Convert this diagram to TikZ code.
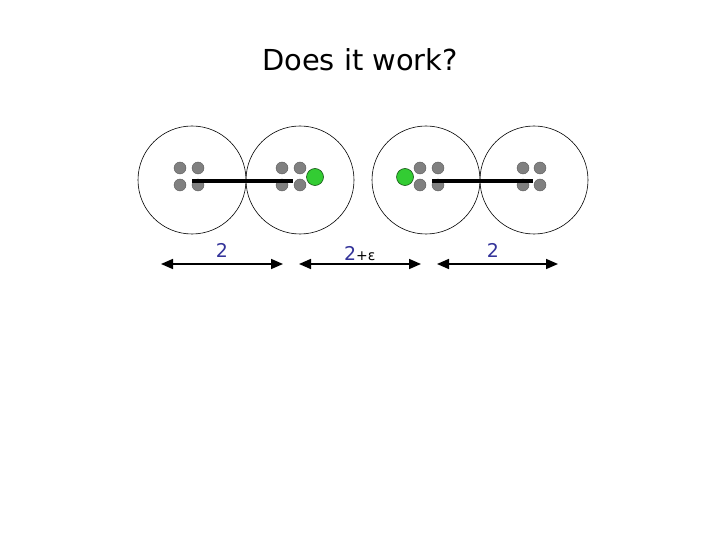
\documentclass[tikz,border=0pt]{standalone}
\usepackage{fontspec}
\setmainfont{DejaVu Sans}
\usetikzlibrary{arrows.meta}
\definecolor{lblue}{HTML}{333399}
\definecolor{dotgray}{HTML}{808080}
\definecolor{dotgreen}{HTML}{33CC33}
\begin{document}
\begin{tikzpicture}[x=1bp,y=-1bp,
  bigc/.style={circle,draw=black,line width=0.6bp,minimum size=108bp,inner sep=0},
  gdot/.style={circle,fill=dotgray,draw=dotgray!70!black,line width=0.4bp,minimum size=12bp,inner sep=0},
  grn/.style={circle,fill=dotgreen,draw=dotgreen!40!black,line width=0.6bp,minimum size=17bp,inner sep=0},
  bar/.style={line width=4.5bp,black},
  dim/.style={line width=1.6bp,{Triangle[length=12bp,width=10bp]}-{Triangle[length=12bp,width=10bp]}},
  lbl/.style={text=lblue,font=\fontsize{19}{21}\selectfont}]
\useasboundingbox (0,0) rectangle (720,540);
\node[font=\fontsize{29}{33}\selectfont] (title) at (360,60) {Does it work?};
\node[bigc] (c1) at (192,180) {};
\node[bigc] (c2) at (300,180) {};
\node[bigc] (c3) at (426,180) {};
\node[bigc] (c4) at (534,180) {};
% dots circle 1
\node[gdot] (d1a) at (180,168) {};
\node[gdot] (d1b) at (198,168) {};
\node[gdot] (d1c) at (180,185) {};
\node[gdot] (d1d) at (198,185) {};
% dots circle 2
\node[gdot] (d2a) at (282,168) {};
\node[gdot] (d2b) at (300,168) {};
\node[gdot] (d2c) at (282,185) {};
\node[gdot] (d2d) at (300,185) {};
\node[grn] (g2) at (315,177) {};
% dots circle 3
\node[gdot] (d3a) at (420,168) {};
\node[gdot] (d3b) at (438,168) {};
\node[gdot] (d3c) at (420,185) {};
\node[gdot] (d3d) at (438,185) {};
\node[grn] (g3) at (405,177) {};
% dots circle 4
\node[gdot] (d4a) at (523,168) {};
\node[gdot] (d4b) at (540,168) {};
\node[gdot] (d4c) at (523,185) {};
\node[gdot] (d4d) at (540,185) {};
% bars
\coordinate (b1s) at (192,181);
\coordinate (b1e) at (293,181);
\coordinate (b2s) at (432,181);
\coordinate (b2e) at (533,181);
\draw[bar] (b1s) -- (b1e);
\draw[bar] (b2s) -- (b2e);
% dimension arrows
\coordinate (a1s) at (161,264); \coordinate (a1e) at (283,264);
\coordinate (a2s) at (299,264); \coordinate (a2e) at (421,264);
\coordinate (a3s) at (437,264); \coordinate (a3e) at (558,264);
\draw[dim] (a1s) -- (a1e);
\draw[dim] (a2s) -- (a2e);
\draw[dim] (a3s) -- (a3e);
\node[lbl] (l1) at (222,250) {2};
\node[lbl,anchor=base west,inner sep=0] (l2) at (344,261) {2{\color{black}\fontsize{14}{16}\selectfont +ε}};
\node[lbl] (l3) at (493,250) {2};
\end{tikzpicture}
\end{document}
